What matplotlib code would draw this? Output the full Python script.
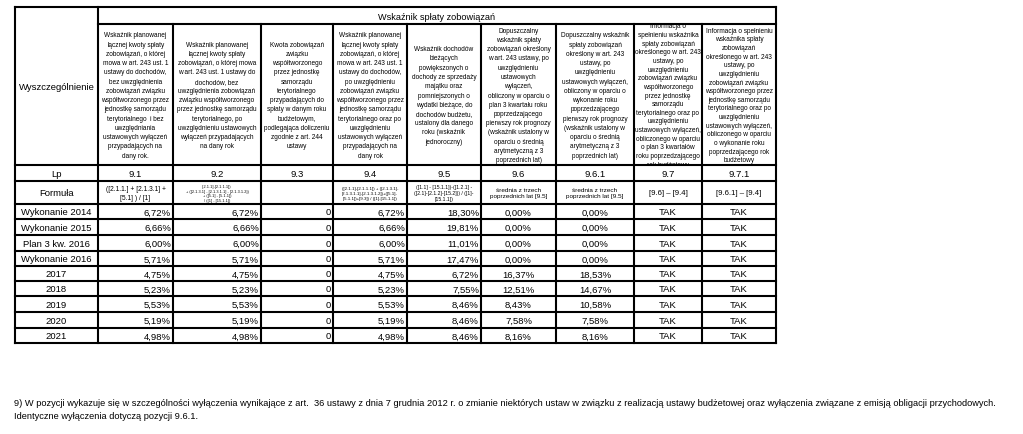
"""Wskaźnik spłaty zobowiązań - tabela WPF odtworzona w matplotlib."""
import matplotlib
matplotlib.use("Agg")
import matplotlib.pyplot as plt
from matplotlib.transforms import Bbox, TransformedBbox

plt.rcParams["font.family"] = ["Liberation Sans", "DejaVu Sans"]

# --- dane ---------------------------------------------------------------
row_labels = ["Wykonanie 2014", "Wykonanie 2015", "Plan 3 kw. 2016", "Wykonanie 2016",
              "2017", "2018", "2019", "2020", "2021"]
lp = ["9.1", "9.2", "9.3", "9.4", "9.5", "9.6", "9.6.1", "9.7", "9.7.1"]
w91 = [6.72, 6.66, 6.00, 5.71, 4.75, 5.23, 5.53, 5.19, 4.98]
w92 = [6.72, 6.66, 6.00, 5.71, 4.75, 5.23, 5.53, 5.19, 4.98]
w93 = [0, 0, 0, 0, 0, 0, 0, 0, 0]
w94 = [6.72, 6.66, 6.00, 5.71, 4.75, 5.23, 5.53, 5.19, 4.98]
w95 = [18.30, 19.81, 11.01, 17.47, 6.72, 7.55, 8.46, 8.46, 8.46]
w96 = [0.00, 0.00, 0.00, 0.00, 16.37, 12.51, 8.43, 7.58, 8.16]
w961 = [0.00, 0.00, 0.00, 0.00, 18.53, 14.67, 10.58, 7.58, 8.16]
w97 = ["TAK"] * 9
w971 = ["TAK"] * 9

headers = [
    "Wskaźnik planowanej\nłącznej kwoty spłaty\nzobowiązań, o której\nmowa w art. 243 ust. 1\n"
    "ustawy do dochodów,\nbez uwzględnienia\nzobowiązań związku\nwspółtworzonego przez\n"
    "jednostkę samorządu\nterytorialnego  i bez\nuwzględniania\nustawowych wyłączeń\n"
    "przypadających na\ndany rok.",
    "Wskaźnik planowanej\nłącznej kwoty spłaty\nzobowiązań, o której mowa\nw art. 243 ust. 1 ustawy do\n"
    "dochodów, bez\nuwzględnienia zobowiązań\nzwiązku współtworzonego\nprzez jednostkę samorządu\n"
    "terytorialnego, po\nuwzględnieniu ustawowych\nwyłączeń przypadających\nna dany rok",
    "Kwota zobowiązań\nzwiązku\nwspółtworzonego\nprzez jednostkę\nsamorządu\nterytorialnego\n"
    "przypadających do\nspłaty w danym roku\nbudżetowym,\npodlegająca doliczeniu\n"
    "zgodnie z art. 244\nustawy",
    "Wskaźnik planowanej\nłącznej kwoty spłaty\nzobowiązań, o której\nmowa w art. 243 ust. 1\n"
    "ustawy do dochodów,\npo uwzględnieniu\nzobowiązań związku\nwspółtworzonego przez\n"
    "jednostkę samorządu\nterytorialnego oraz po\nuwzględnieniu\nustawowych wyłączeń\n"
    "przypadających na\ndany rok",
    "Wskaźnik dochodów\nbieżących\npowiększonych o\ndochody ze sprzedaży\nmajątku oraz\n"
    "pomniejszonych o\nwydatki bieżące, do\ndochodów budżetu,\nustalony dla danego\n"
    "roku (wskaźnik\njednoroczny)",
    "Dopuszczalny\nwskaźnik spłaty\nzobowiązań określony\nw art. 243 ustawy, po\nuwzględnieniu\n"
    "ustawowych\nwyłączeń,\nobliczony w oparciu o\nplan 3 kwartału roku\npoprzedzającego\n"
    "pierwszy rok prognozy\n(wskaźnik ustalony w\noparciu o średnią\narytmetyczną z 3\n"
    "poprzednich lat)",
    "Dopuszczalny wskaźnik\nspłaty zobowiązań\nokreślony w art. 243\nustawy, po\nuwzględnieniu\n"
    "ustawowych wyłączeń,\nobliczony w oparciu o\nwykonanie roku\npoprzedzającego\n"
    "pierwszy rok prognozy\n(wskaźnik ustalony w\noparciu o średnią\narytmetyczną z 3\n"
    "poprzednich lat)",
    "Informacja o\nspełnieniu wskaźnika\nspłaty zobowiązań\nokreślonego w art. 243\nustawy, po\n"
    "uwzględnieniu\nzobowiązań związku\nwspółtworzonego\nprzez jednostkę\nsamorządu\n"
    "terytorialnego oraz po\nuwzględnieniu\nustawowych wyłączeń,\nobliczonego w oparciu\n"
    "o plan 3 kwartałów\nroku poprzedzającego\nrok budżetowy",
    "Informacja o spełnieniu\nwskaźnika spłaty\nzobowiązań\nokreślonego w art. 243\nustawy, po\n"
    "uwzględnieniu\nzobowiązań związku\nwspółtworzonego przez\njednostkę samorządu\n"
    "terytorialnego oraz po\nuwzględnieniu\nustawowych wyłączeń,\nobliczonego w oparciu\n"
    "o wykonanie roku\npoprzedzającego rok\nbudżetowy",
]
formulas = [
    "([2.1.1.] + [2.1.3.1] +\n[5.1] ) / [1]",
    "([2.1.1]-[2.1.1.1])\n+ ([2.1.3.1] - [2.1.3.1.1] - [2.1.3.1.2])\n+ ([5.1] - [5.1.1])\n/ ([1] - [15.1.1])",
    "",
    "([2.1.1]-[2.1.1.1]) + ([2.1.3.1]-\n[2.1.3.1.1]-[2.1.3.1.2])+([5.1]-\n[5.1.1])+[9.3]) / ([1]-[15.1.1])",
    "([1.1] - [15.1.1])-([1.2.1] -\n([2.1]-[2.1.2]-[15.2])) / ([1]-\n[15.1.1])",
    "średnia z trzech\npoprzednich lat [9.5]",
    "średnia z trzech\npoprzednich lat [9.5]",
    "[9.6] – [9.4]",
    "[9.6.1] – [9.4]",
]
formula_sizes = [4.8, 2.8, 4.8, 3.2, 3.7, 4.6, 4.6, 5.6, 5.6]
footnote = ("9) W pozycji wykazuje się w szczególności wyłączenia wynikające z art.  36 ustawy z dnia "
            "7 grudnia 2012 r. o zmianie niektórych ustaw w związku z realizacją ustawy budżetowej oraz "
            "wyłączenia związane z emisją obligacji przychodowych.\nIdentyczne wyłączenia dotyczą pozycji 9.6.1.")

# --- uklad (piksele) ----------------------------------------------------
xs = [15, 98, 173, 261, 333, 407, 481, 556, 634, 702, 776]
ys = [8, 25, 166, 182, 205, 220, 236, 252, 267, 282, 297, 313, 329, 344]
lw = 1.5

fig = plt.figure(figsize=(10.23, 4.35), dpi=100)
ax = fig.add_axes([0, 0, 1, 1])
ax.set_xlim(0, 1023)
ax.set_ylim(435, 0)
ax.axis("off")


def pct(v):
    return f"{v:.2f}".replace(".", ",") + "%"


def cell_text(x0, x1, y0, y1, s, size, ha="center", clip=False, **kw):
    if ha == "center":
        tx = (x0 + x1) / 2
    elif ha == "right":
        tx = x1 - 2
    else:
        tx = x0 + 2
    t = ax.text(tx, (y0 + y1) / 2 + 0.5, s, ha=ha, va="center", fontsize=size, **kw)
    if clip:
        box = TransformedBbox(Bbox([[x0, y0 + 1], [x1, y1 - 1]]), ax.transData)
        t.set_clip_box(box)
        t.set_clip_on(True)
    return t


# linie pionowe
ax.plot([xs[0], xs[0]], [ys[0], ys[-1]], color="black", lw=lw)
ax.plot([xs[1], xs[1]], [ys[0], ys[-1]], color="black", lw=lw)
for x in xs[2:-1]:
    ax.plot([x, x], [ys[1], ys[-1]], color="black", lw=lw)
ax.plot([xs[-1], xs[-1]], [ys[0], ys[-1]], color="black", lw=lw)
# linie poziome
ax.plot([xs[0], xs[-1]], [ys[0], ys[0]], color="black", lw=lw)
ax.plot([xs[1], xs[-1]], [ys[1], ys[1]], color="black", lw=lw)
for y in ys[2:]:
    ax.plot([xs[0], xs[-1]], [y, y], color="black", lw=lw)

# naglowki
cell_text(xs[0], xs[1], ys[0], ys[2], "Wyszczególnienie", 6.8)
cell_text(xs[1], xs[-1], ys[0], ys[1], "Wskaźnik spłaty zobowiązań", 6.6)
for i, h in enumerate(headers):
    spacing = 1.45 if h.count("\n") < 15 else 1.33
    cell_text(xs[i + 1], xs[i + 2], ys[1], ys[2], h, 4.7, clip=True, linespacing=spacing)

cell_text(xs[0], xs[1], ys[2], ys[3], "Lp", 6.8)
cell_text(xs[0], xs[1], ys[3], ys[4], "Formuła", 6.8)
for i in range(len(lp)):
    cell_text(xs[i + 1], xs[i + 2], ys[2], ys[3], lp[i], 6.8)
    cell_text(xs[i + 1], xs[i + 2], ys[3], ys[4], formulas[i], formula_sizes[i],
              clip=True, linespacing=1.25)

# dane
cols = [[pct(v) for v in w91], [pct(v) for v in w92], [str(v) for v in w93],
        [pct(v) for v in w94], [pct(v) for v in w95], [pct(v) for v in w96],
        [pct(v) for v in w961], w97, w971]
aligns = ["right", "right", "right", "right", "right", "center", "center", "center", "center"]
for r, lab in enumerate(row_labels):
    y0, y1 = ys[4 + r], ys[5 + r]
    cell_text(xs[0], xs[1], y0, y1, lab, 6.8)
    for c, col in enumerate(cols):
        cell_text(xs[c + 1], xs[c + 2], y0, y1, col[r], 6.8, ha=aligns[c])

# przypis
ax.text(14, 410, footnote, ha="left", va="center", fontsize=6.7, linespacing=1.7)

fig.savefig("out.png", dpi=100)
